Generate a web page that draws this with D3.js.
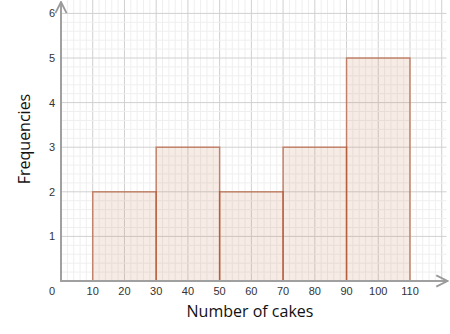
<!DOCTYPE html>
<html lang="en">
<head>
<meta charset="UTF-8">
<title>Number of cakes histogram</title>
<script src="https://d3js.org/d3.v7.min.js"></script>
<style>
  body { margin: 0; background: #fff; }
  .tick-label { font: 11px "Liberation Sans", Arial, sans-serif; fill: #333; }
  .axis-title { font: 16px "Open Sans", sans-serif; fill: #111; }
</style>
</head>
<body>
<svg id="chart" width="450" height="334"></svg>
<script>
// histogram data
var binStarts = [10, 30, 50, 70, 90];
var binEnds = [30, 50, 70, 90, 110];
var frequencies = [2, 3, 2, 3, 5];
var xTicks = [10, 20, 30, 40, 50, 60, 70, 80, 90, 100, 110];
var yTicks = [1, 2, 3, 4, 5, 6];

var width = 450, height = 334;
var svg = d3.select("#chart");

var x = d3.scaleLinear().domain([0, 110]).range([61, 410]);
var y = d3.scaleLinear().domain([0, 6]).range([281, 13.4]);

var gridRight = 121.5, gridTop = y.invert(0);

// minor grid
var g = svg.append("g");
g.selectAll("line.minor-v")
  .data(d3.range(2, 121, 2))
  .enter().append("line")
  .attr("x1", d => x(d)).attr("x2", d => x(d))
  .attr("y1", y(0)).attr("y2", y(gridTop))
  .attr("stroke", d => d % 10 === 0 ? "#d0d0d0" : "#efefef")
  .attr("stroke-width", 1);
g.selectAll("line.minor-h")
  .data(d3.range(1, 31).map(d => d / 5))
  .enter().append("line")
  .attr("x1", x(0)).attr("x2", x(gridRight))
  .attr("y1", d => y(d)).attr("y2", d => y(d))
  .attr("stroke", d => Math.abs(d - Math.round(d)) < 1e-6 ? "#d0d0d0" : "#efefef")
  .attr("stroke-width", 1);

// bars
svg.selectAll("rect.bar")
  .data(frequencies)
  .enter().append("rect")
  .attr("class", "bar")
  .attr("x", (d, i) => x(binStarts[i]))
  .attr("y", d => y(d))
  .attr("width", (d, i) => x(binEnds[i]) - x(binStarts[i]))
  .attr("height", d => y(0) - y(d))
  .attr("fill", "rgba(205,130,100,0.16)")
  .attr("stroke", "rgba(175,75,35,0.6)")
  .attr("stroke-width", 1.5);

// axes with arrows
svg.append("defs").append("marker")
  .attr("id", "arrow")
  .attr("viewBox", "0 0 10 10")
  .attr("refX", 9).attr("refY", 5)
  .attr("markerWidth", 7).attr("markerHeight", 7)
  .attr("orient", "auto")
  .append("path")
  .attr("d", "M1,1L9,5L1,9")
  .attr("fill", "none")
  .attr("stroke", "#999")
  .attr("stroke-width", 1.3);

svg.append("line")
  .attr("x1", x(0) - 1).attr("x2", x(gridRight) + 1)
  .attr("y1", y(0)).attr("y2", y(0))
  .attr("stroke", "#a0a0a0").attr("stroke-width", 2)
  .attr("marker-end", "url(#arrow)");
svg.append("line")
  .attr("x1", x(0)).attr("x2", x(0))
  .attr("y1", y(0) + 1).attr("y2", 2)
  .attr("stroke", "#a0a0a0").attr("stroke-width", 2)
  .attr("marker-end", "url(#arrow)");

// tick labels
svg.selectAll("text.xt")
  .data(xTicks)
  .enter().append("text")
  .attr("class", "tick-label")
  .attr("x", d => x(d))
  .attr("y", y(0) + 14)
  .attr("text-anchor", "middle")
  .text(d => d);
svg.selectAll("text.yt")
  .data(yTicks)
  .enter().append("text")
  .attr("class", "tick-label")
  .attr("x", x(0) - 6)
  .attr("y", d => y(d) + 4)
  .attr("text-anchor", "end")
  .text(d => d);
svg.append("text")
  .attr("class", "tick-label")
  .attr("x", x(0) - 6)
  .attr("y", y(0) + 14)
  .attr("text-anchor", "end")
  .text("0");

// axis titles
svg.append("text")
  .attr("class", "axis-title")
  .attr("x", 250)
  .attr("y", 317)
  .attr("text-anchor", "middle")
  .text("Number of cakes");
svg.append("text")
  .attr("class", "axis-title")
  .attr("transform", "translate(30,139) rotate(-90)")
  .attr("text-anchor", "middle")
  .text("Frequencies");
</script>
</body>
</html>
